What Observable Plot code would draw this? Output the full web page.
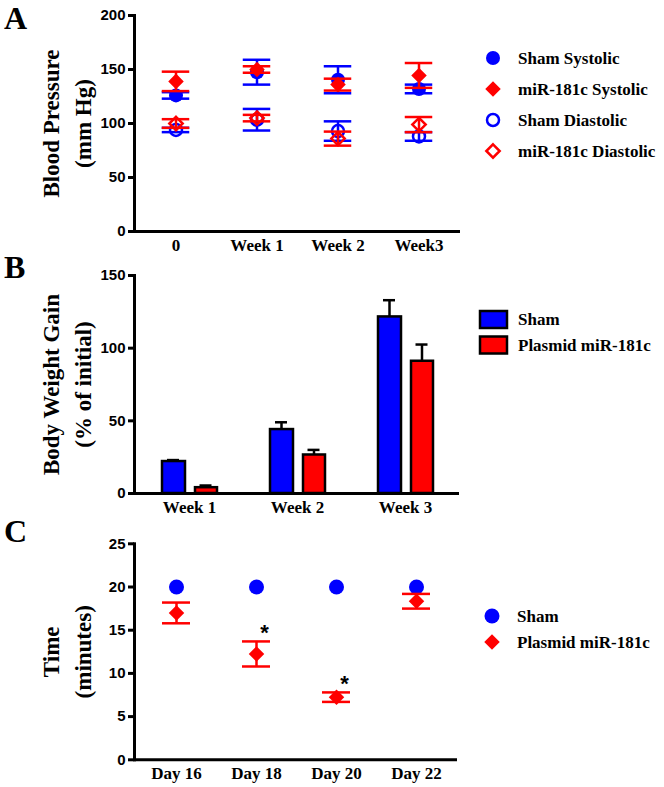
<!DOCTYPE html>
<html><head><meta charset="utf-8">
<script src="https://cdn.jsdelivr.net/npm/d3@7"></script>
<script src="https://cdn.jsdelivr.net/npm/@observablehq/plot@0.6"></script>
<style>
body{margin:0;background:#fff;}
#root{position:relative;width:664px;height:787px;overflow:hidden;}
.panel{position:absolute;left:0;}
#overlay{position:absolute;left:0;top:0;}
</style></head><body><div id="root"></div>
<script>
// ---------- Panel A: blood pressure ----------
const timepoints = ["0", "Week 1", "Week 2", "Week3"];
const shamSystolic = [126, 147.5, 140.5, 132];
const shamSystolicSEM = [3, 11.5, 12.5, 4];
const mirSystolic = [139, 150, 136, 144.5];
const mirSystolicSEM = [9, 3, 5.5, 11.5];
const shamDiastolic = [94, 103.5, 93, 88];
const shamDiastolicSEM = [2, 10, 9, 4];
const mirDiastolic = [100, 105, 86, 99];
const mirDiastolicSEM = [4, 3, 6.5, 7];
const bpTicks = [0, 50, 100, 150, 200];

// ---------- Panel B: body weight gain ----------
const weeks = ["Week 1", "Week 2", "Week 3"];
const shamGain = [22, 44, 121.5];
const shamGainSEM = [1, 5, 11.5];
const plasmidGain = [4, 26.5, 91];
const plasmidGainSEM = [1.5, 3.5, 11.5];
const gainTicks = [0, 50, 100, 150];

// ---------- Panel C: time ----------
const days = ["Day 16", "Day 18", "Day 20", "Day 22"];
const shamTime = [20, 20, 20, 20];
const plasmidTime = [17, 12.25, 7.25, 18.35];
const plasmidTimeSEM = [1.2, 1.45, 0.55, 0.85];
const significant = [false, true, true, false];
const timeTicks = [0, 5, 10, 15, 20, 25];

const BLUE = "#0000ff", RED = "#ff0000";
const SERIF = "Liberation Serif, Times New Roman, serif";
const SANS = "Liberation Sans, Arial, sans-serif";

const root = document.getElementById("root");
function place(node, top) { node.classList.add("panel"); node.style.top = top + "px"; root.appendChild(node); }

function commonAxes(ticks, title) {
  return [
    Plot.axisY({ticks, tickSize: 6, tickPadding: 3, strokeWidth: 3, label: null, fontSize: 15, fontFamily: SANS, fontWeight: "bold"}),
    Plot.axisX({tickSize: 0, tickPadding: 7, label: null, fontSize: 17, fontFamily: SERIF, fontWeight: "bold"}),
    Plot.text([title], {text: d => d, frameAnchor: "left", textAnchor: "middle", dx: -70, rotate: -90, fontSize: 23, fontFamily: SERIF, fontWeight: "bold", lineHeight: 1.4}),
  ];
}
const frameLines = () => [Plot.frame({anchor: "left", strokeWidth: 3}), Plot.ruleY([0], {strokeWidth: 3})];

// Panel A rows
const seriesA = [
  {name: "Sham Systolic", mean: shamSystolic, sem: shamSystolicSEM, color: BLUE, symbol: "circle", filled: true},
  {name: "miR-181c Systolic", mean: mirSystolic, sem: mirSystolicSEM, color: RED, symbol: "diamond2", filled: true},
  {name: "Sham Diastolic", mean: shamDiastolic, sem: shamDiastolicSEM, color: BLUE, symbol: "circle", filled: false},
  {name: "miR-181c Diastolic", mean: mirDiastolic, sem: mirDiastolicSEM, color: RED, symbol: "diamond2", filled: false},
];
function seriesMarks(rows, s, capInset, r) {
  return [
    Plot.ruleX(rows, {x: "t", y1: "lo", y2: "hi", stroke: s.color, strokeWidth: 2.5}),
    Plot.tickY(rows, {x: "t", y: "lo", stroke: s.color, strokeWidth: 2.5, insetLeft: capInset, insetRight: capInset}),
    Plot.tickY(rows, {x: "t", y: "hi", stroke: s.color, strokeWidth: 2.5, insetLeft: capInset, insetRight: capInset}),
    s.filled
      ? Plot.dot(rows, {x: "t", y: "mean", r, symbol: s.symbol, fill: s.color, stroke: "none"})
      : Plot.dot(rows, {x: "t", y: "mean", r: r - 1, symbol: s.symbol, fill: "none", stroke: s.color, strokeWidth: 2.5}),
  ];
}
const marksA = seriesA.flatMap(s => {
  const rows = timepoints.map((t, i) => ({t, mean: s.mean[i], lo: s.mean[i] - s.sem[i], hi: s.mean[i] + s.sem[i]}));
  return seriesMarks(rows, s, 26.75, 7);
});
const plotA = Plot.plot({
  width: 664, height: 256, marginTop: 15, marginBottom: 25, marginLeft: 134, marginRight: 204,
  x: {type: "band", domain: timepoints, padding: 0},
  y: {domain: [0, 200]},
  style: {background: "transparent", color: "black", overflow: "visible"},
  marks: [...commonAxes(bpTicks, "Blood Pressure\n(mm Hg)"), ...marksA, ...frameLines()]
});
place(plotA, 0);

// Panel B rows
const rowsSham = weeks.map((w, i) => ({t: w, v: shamGain[i], hi: shamGain[i] + shamGainSEM[i]}));
const rowsPlasmid = weeks.map((w, i) => ({t: w, v: plasmidGain[i], hi: plasmidGain[i] + plasmidGainSEM[i]}));
const plotB = Plot.plot({
  width: 664, height: 262, marginTop: 19, marginBottom: 25, marginLeft: 134, marginRight: 205,
  x: {type: "band", domain: weeks, padding: 0},
  y: {domain: [0, 150]},
  style: {background: "transparent", color: "black", overflow: "visible"},
  marks: [
    ...commonAxes(gainTicks, "Body Weight Gain\n(% of initial)"),
    Plot.ruleX(rowsSham, {x: "t", y1: "v", y2: "hi", dx: -16, strokeWidth: 2.5}),
    Plot.tickY(rowsSham, {x: "t", y: "hi", dx: -16, insetLeft: 48, insetRight: 48, strokeWidth: 2.5}),
    Plot.ruleX(rowsPlasmid, {x: "t", y1: "v", y2: "hi", dx: 16.5, strokeWidth: 2.5}),
    Plot.tickY(rowsPlasmid, {x: "t", y: "hi", dx: 16.5, insetLeft: 48, insetRight: 48, strokeWidth: 2.5}),
    Plot.barY(rowsSham, {x: "t", y: "v", fill: BLUE, stroke: "black", strokeWidth: 2.5, insetLeft: 27, insetRight: 58}),
    Plot.barY(rowsPlasmid, {x: "t", y: "v", fill: RED, stroke: "black", strokeWidth: 2.5, insetLeft: 60, insetRight: 26}),
    ...frameLines()
  ]
});
place(plotB, 256);

// Panel C rows
const rowsCSham = days.map((d, i) => ({t: d, mean: shamTime[i], lo: shamTime[i], hi: shamTime[i]}));
const rowsCPlasmid = days.map((d, i) => ({t: d, mean: plasmidTime[i], lo: plasmidTime[i] - plasmidTimeSEM[i], hi: plasmidTime[i] + plasmidTimeSEM[i], sig: significant[i]}));
const plotC = Plot.plot({
  width: 664, height: 269, marginTop: 25.3, marginBottom: 27.7, marginLeft: 134, marginRight: 207,
  x: {type: "band", domain: days, padding: 0},
  y: {domain: [0, 25]},
  style: {background: "transparent", color: "black", overflow: "visible"},
  marks: [
    ...commonAxes(timeTicks, "Time\n(minutes)"),
    Plot.dot(rowsCSham, {x: "t", y: "mean", r: 7.5, fill: BLUE}),
    ...seriesMarks(rowsCPlasmid, {color: RED, symbol: "diamond2", filled: true}, 26, 7),
    Plot.text(rowsCPlasmid.filter(d => d.sig), {x: "t", y: "hi", text: () => "*", dx: 8, dy: -8, fontSize: 22, fontFamily: SANS, fontWeight: "bold"}),
    ...frameLines()
  ]
});
place(plotC, 518);

// ---------- Overlay: panel letters and legends ----------
const svg = d3.select(root).append("svg").attr("id", "overlay").attr("width", 664).attr("height", 787);
[["A", 29], ["B", 278], ["C", 542]].forEach(([l, y]) =>
  svg.append("text").attr("x", 4).attr("y", y).attr("font-family", SERIF).attr("font-weight", "bold").attr("font-size", 32).text(l));

function legendText(x, y, label) {
  svg.append("text").attr("x", x).attr("y", y).attr("dy", "0.35em").attr("font-family", SERIF)
    .attr("font-weight", "bold").attr("font-size", 17).text(label);
}
function legendSymbol(x, y, type, r, color, filled) {
  const size = Math.PI * r * r;
  svg.append("path").attr("transform", `translate(${x},${y})`)
    .attr("d", d3.symbol().type(type).size(size)())
    .attr("fill", filled ? color : "none").attr("stroke", filled ? "none" : color).attr("stroke-width", filled ? 0 : 2.5);
}
const legendAy = [58, 89, 120, 151];
seriesA.forEach((s, i) => {
  const type = s.symbol === "circle" ? d3.symbolCircle : d3.symbolDiamond2;
  legendSymbol(493, legendAy[i], type, s.filled ? 7 : 6, s.color, s.filled);
  legendText(518, legendAy[i], s.name);
});
const legendB = [["Sham", BLUE, 319.5], ["Plasmid miR-181c", RED, 345]];
legendB.forEach(([name, color, y]) => {
  svg.append("rect").attr("x", 480).attr("y", y - 8.5).attr("width", 27).attr("height", 17)
    .attr("fill", color).attr("stroke", "black").attr("stroke-width", 2.5);
  legendText(518, y, name);
});
legendSymbol(492, 616, d3.symbolCircle, 7.5, BLUE, true);
legendText(517, 616, "Sham");
legendSymbol(492, 642, d3.symbolDiamond2, 7, RED, true);
legendText(517, 642, "Plasmid miR-181c");
</script>
</body></html>
